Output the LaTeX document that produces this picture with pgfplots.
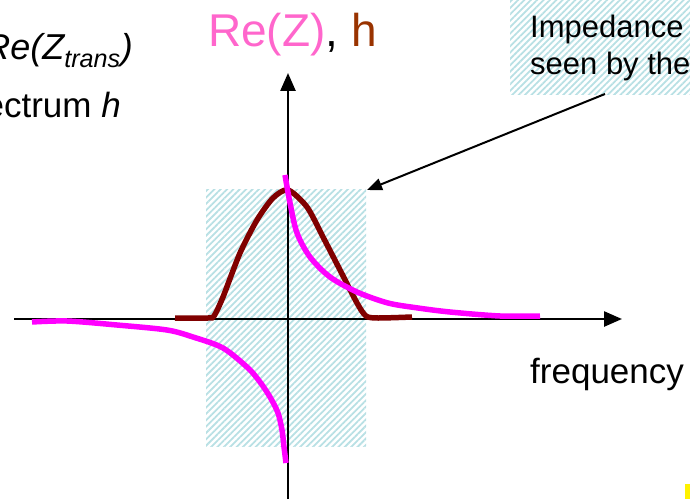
\documentclass[border=0pt]{standalone}
\usepackage{pgfplots}
\pgfplotsset{compat=1.18}
\usepackage{fontspec}
\setmainfont{Liberation Sans}
\usetikzlibrary{arrows.meta,patterns.meta}
\definecolor{mag}{RGB}{255,0,255}
\definecolor{brn}{RGB}{128,0,0}
\definecolor{hatchc}{RGB}{184,224,228}
\definecolor{pinktxt}{RGB}{255,102,204}
\definecolor{brtxt}{RGB}{153,51,0}
\begin{document}
\begin{tikzpicture}
\begin{axis}[
  hide axis, scale only axis, width=690bp, height=499bp,
  xmin=-288, xmax=402, ymin=-180, ymax=319, clip=false,
]
% hatched regions
\fill[pattern={Lines[angle=45,distance=4.5bp,line width=1.8bp]}, pattern color=hatchc]
  (axis cs:-82,-127) rectangle (axis cs:78,129);
\fill[pattern={Lines[angle=45,distance=4.5bp,line width=1.8bp]}, pattern color=hatchc]
  (axis cs:222,224) rectangle (axis cs:402,319);
% axes
\draw[line width=2.5bp, -{Triangle[length=18bp,width=15bp]}] (axis cs:-274,0) -- (axis cs:334,0);
\draw[line width=2.5bp, -{Triangle[length=18bp,width=15bp]}] (axis cs:0,-180) -- (axis cs:0,246);
% h spectrum
\addplot[brn, line width=5.5bp, smooth, tension=0.45] coordinates {
(-113,1) (-80,1) (-74,3) (-65,22) (-48,66) (-31,99) (-15,121) (0,129)
(19,112) (35,82) (52,49) (69,16) (78,3) (90,1) (124,2)};
% Re(Z) right branch
\addplot[mag, line width=5.5bp, smooth, tension=0.5] coordinates {
(-3,144) (2,116) (9,86) (22,62) (42,42) (69,27) (100,16) (130,11) (162,7) (212,3) (252,3)};
% Re(Z) left branch
\addplot[mag, line width=5.5bp, smooth, tension=0.5] coordinates {
(-256,-3) (-221,-2) (-171,-6) (-121,-11) (-95,-18) (-65,-29) (-40,-49) (-28,-63)
(-18,-78) (-10,-94) (-6,-111) (-4,-128) (-2,-144)};
% annotation arrow
\draw[line width=2bp, -{Triangle[length=15bp,width=12bp]}] (axis cs:317,225) -- (axis cs:79,129);
% texts
\node[anchor=base west, inner sep=0pt, font=\fontsize{46bp}{50bp}\selectfont]
  at (axis cs:-80,272) {\textcolor{pinktxt}{Re(Z)}, \textcolor{brtxt}{h}};
\node[anchor=base west, inner sep=0pt, font=\fontsize{31bp}{36bp}\selectfont]
  at (axis cs:242,281) {Impedance};
\node[anchor=base west, inner sep=0pt, font=\fontsize{31bp}{36bp}\selectfont]
  at (axis cs:242,244) {seen by the};
\node[anchor=base west, inner sep=0pt, font=\fontsize{35bp}{40bp}\selectfont]
  at (axis cs:242,-64) {frequency};
\node[anchor=base east, inner sep=0pt, font=\fontsize{35bp}{40bp}\selectfont]
  at (axis cs:-167,201) {spectrum \textit{h}};
\node[anchor=base east, inner sep=0pt, font=\fontsize{36bp}{40bp}\selectfont]
  at (axis cs:-155,259) {\textit{Re(Z\textsubscript{trans})}};
% small yellow mark
\fill[yellow] (axis cs:397,-165) rectangle (axis cs:402,-180);
\end{axis}
\pgfresetboundingbox
\useasboundingbox (current axis.south west) rectangle (current axis.north east);
\end{tikzpicture}
\end{document}
